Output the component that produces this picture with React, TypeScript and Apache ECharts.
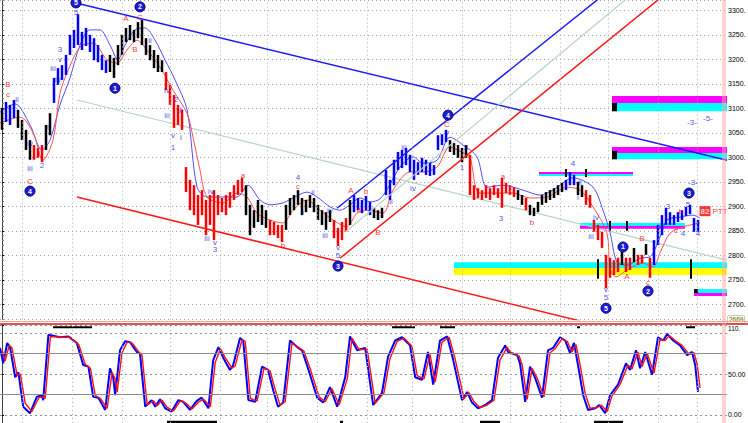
import React, { useEffect, useRef } from "react";
import * as echarts from "echarts";

// ---- price bars (high / low per bar) ----
const HIGHS = [
  3101, 3113, 3107, 3117, 3097, 3076, 3056, 3035, 3025, 3019,
  3025, 3066, 3090, 3162, 3182, 3188, 3209, 3250, 3260, 3292,
  3256, 3264, 3250, 3243, 3229, 3209, 3198, 3209, 3203, 3229,
  3250, 3264, 3270, 3260, 3276, 3280, 3243, 3229, 3219, 3209,
  3198, 3174, 3148, 3127, 3107, 3097, 2980, 2954, 2943, 2923,
  2933, 2913, 2923, 2933, 2923, 2917, 2923, 2929, 2943, 2954,
  2958, 2943, 2903, 2892, 2913, 2903, 2892, 2872, 2868, 2862,
  2862, 2903, 2917, 2923, 2933, 2917, 2913, 2923, 2917, 2903,
  2892, 2888, 2892, 2872, 2856, 2868, 2876, 2913, 2923, 2917,
  2913, 2921, 2909, 2897, 2892, 2897, 2974, 2954, 2995, 3011,
  3015, 3019, 3005, 2995, 2990, 2999, 2995, 2990, 2984, 3045,
  3047, 3056, 3035, 3029, 3025, 3019, 3025, 3005, 2943, 2937,
  2933, 2943, 2937, 2943, 2937, 2958, 2948, 2943, 2939, 2933,
  2923, 2917, 2903, 2897, 2909, 2923, 2929, 2933, 2937, 2943,
  2948, 2954, 2970, 2964, 2950, 2943, 2933, 2923, 2872, 2862,
  2848, 2801, 2795, 2790, 2795, 2807, 2795, 2795, 2815, 2801,
  2801, 2823, 2795, 2831, 2862, 2882, 2897, 2888, 2882, 2888,
  2892, 2899, 2903, 2876, 2872,
];
const LOWS = [
  3056, 3072, 3066, 3080, 3060, 3035, 3015, 2995, 2995, 2999,
  2990, 3015, 3045, 3111, 3148, 3158, 3168, 3209, 3223, 3229,
  3219, 3227, 3215, 3198, 3194, 3178, 3172, 3174, 3162, 3188,
  3209, 3235, 3239, 3235, 3243, 3229, 3209, 3198, 3182, 3174,
  3174, 3137, 3107, 3060, 3066, 3056, 2929, 2892, 2882, 2862,
  2882, 2841, 2862, 2831, 2882, 2888, 2882, 2897, 2913, 2923,
  2929, 2882, 2841, 2856, 2868, 2862, 2856, 2841, 2841, 2835,
  2827, 2852, 2882, 2892, 2903, 2882, 2888, 2897, 2888, 2872,
  2862, 2852, 2868, 2835, 2819, 2831, 2848, 2862, 2888, 2892,
  2886, 2892, 2882, 2876, 2872, 2876, 2923, 2913, 2943, 2974,
  2978, 2984, 2970, 2954, 2964, 2970, 2964, 2962, 2964, 3015,
  3025, 3031, 3011, 3005, 2999, 2990, 2999, 2923, 2913, 2917,
  2913, 2917, 2913, 2923, 2917, 2897, 2927, 2923, 2919, 2913,
  2903, 2892, 2882, 2880, 2888, 2903, 2907, 2913, 2917, 2923,
  2929, 2933, 2943, 2943, 2923, 2919, 2903, 2897, 2848, 2831,
  2815, 2733, 2754, 2760, 2766, 2780, 2766, 2770, 2786, 2780,
  2784, 2801, 2754, 2780, 2821, 2841, 2862, 2862, 2862, 2868,
  2872, 2880, 2884, 2848, 2848,
];
// wave colour of consecutive bars: k = black, b = blue, r = red
const BAR_RUNS: [string, number][] = [
  ["k", 1], ["b", 3], ["k", 4], ["r", 3], ["k", 2], ["b", 14], ["k", 14], ["r", 20],
  ["k", 6], ["r", 4], ["k", 12], ["r", 4], ["k", 1], ["b", 5], ["k", 3], ["b", 16],
  ["k", 5], ["r", 12], ["k", 2], ["r", 1], ["k", 9], ["b", 3], ["k", 2], ["r", 9],
  ["k", 1], ["r", 2], ["k", 1], ["r", 2], ["k", 1], ["r", 1], ["b", 12],
];

// ---- envelope averages ----
const BLUE_MA: [number, number][] = [
  [-0.5, 3092], [3.25, 3109], [7, 3066], [10, 3015], [12, 3035], [14.5, 3107], [17, 3162],
  [19.5, 3229], [22, 3260], [24.5, 3260], [27, 3229], [29, 3199], [30.75, 3229], [33.25, 3260],
  [35.75, 3264], [38.25, 3239], [40.75, 3199], [43.25, 3158], [46.25, 3097], [48.75, 2939],
  [51.25, 2919], [53.75, 2919], [58.75, 2919], [61.5, 2943], [64.5, 2913], [67, 2903],
  [70.25, 2907], [72.75, 2917], [76.25, 2929], [78.75, 2919], [82, 2899], [84.5, 2892],
  [87, 2903], [89.5, 2917], [92, 2909], [94.5, 2915], [97, 2945], [99.5, 2980], [102.75, 3001],
  [105.25, 2988], [108.75, 2994], [112, 3041], [115.25, 3025], [118.75, 3001], [121.25, 2939],
  [125.25, 2943], [130.25, 2933], [134.5, 2923], [137.75, 2933], [142.75, 2958], [147.75, 2939],
  [150.25, 2892], [152, 2847], [153.75, 2786], [156.25, 2780], [159.5, 2794], [162, 2797],
  [164.5, 2837], [166.25, 2872], [169.5, 2878], [172.75, 2882], [174.5, 2876],
];
const RED_MA: [number, number][] = [
  [-0.5, 3070], [4.5, 3082], [7.75, 3050], [10.25, 2994], [12.75, 3035], [14.5, 3131],
  [16.25, 3172], [19.5, 3225], [22.75, 3233], [26.25, 3199], [28.75, 3192], [31.25, 3219],
  [33.75, 3239], [36.25, 3219], [39.5, 3184], [42.75, 3137], [46.25, 3090], [47.75, 3041],
  [49.5, 2974], [51.25, 2919], [55.25, 2907], [58.75, 2927], [61.25, 2919], [63.75, 2886],
  [67, 2872], [70.25, 2866], [72.75, 2892], [76.25, 2913], [79.5, 2892], [82.75, 2872],
  [86.25, 2858], [88.75, 2886], [92, 2892], [95.25, 2886], [97.75, 2933], [102, 2970],
  [105.25, 2970], [108.75, 2980], [112, 3021], [115.25, 3009], [117, 2999], [119.5, 2927],
  [127.75, 2927], [132, 2917], [136.25, 2919], [141.25, 2939], [144.5, 2933], [147.75, 2899],
  [151.25, 2845], [152, 2774], [153.5, 2756], [156.25, 2770], [160.25, 2784], [162.75, 2776],
  [164.5, 2805], [167, 2845], [170.25, 2858], [174.5, 2866],
];

// ---- stochastic oscillator ----
const STOCH_K: [number, number][] = [
  [-0.5, 82], [0.3, 63], [1.3, 88], [2, 83], [3.3, 46], [4.1, 52], [5.3, 10], [7, 2], [8.7, 22],
  [9.9, 24], [10.3, 18], [11.6, 98], [14.5, 95], [16.6, 96], [18.7, 88], [20.3, 61], [21.6, 59],
  [22.8, 22], [24.1, 21], [25.8, 6], [27, 57], [27.8, 46], [28.3, 24], [29.5, 79], [30.8, 90],
  [32, 89], [33.7, 77], [34.5, 75], [35.8, 10], [37.4, 18], [38.3, 10], [39.5, 19], [40.8, 8],
  [42.4, 4], [44.1, 18], [45.3, 16], [47, 6], [48.7, 17], [49.9, 21], [51.6, 8], [52.8, 67],
  [54.1, 83], [55.3, 70], [57, 55], [57.8, 61], [59.5, 94], [60.3, 91], [61.6, 18], [63.3, 16],
  [65, 59], [66.5, 55], [67.8, 30], [69, 10], [70.3, 15], [72, 91], [73.8, 83], [75, 79],
  [76.5, 57], [78.8, 21], [80.3, 15], [82, 34], [83.8, 10], [85.8, 46], [87, 96], [88.8, 79],
  [90.8, 82], [92.8, 12], [95, 27], [96.5, 71], [98.3, 91], [100, 95], [102, 85], [103.3, 46],
  [105, 43], [106.5, 77], [107.8, 37], [109.5, 91], [111.3, 96], [112.8, 67], [115, 18],
  [116.3, 28], [117.5, 15], [119, 8], [120.8, 12], [122.5, 18], [124, 70], [125.8, 85],
  [126.5, 77], [128.8, 73], [129.5, 63], [130.8, 16], [132, 59], [133.3, 45], [135, 21],
  [136.5, 79], [137.8, 82], [139.5, 95], [140.8, 91], [142, 76], [143, 88], [144, 61],
  [145.3, 24], [146.5, 6], [148.3, 8], [149.3, 12], [150.8, 2], [152, 24], [154, 37], [156, 63],
  [157, 55], [158.5, 79], [159.5, 57], [160.8, 77], [162.5, 49], [164, 95], [165.3, 91],
  [166.3, 99], [167.8, 91], [169.5, 85], [171.3, 73], [172.5, 77], [173.3, 61], [174, 28],
];
const STOCH_D: [number, number][] = [
  [0, 80], [0.8, 66], [1.8, 85], [2.5, 82], [3.8, 48], [4.6, 50], [5.8, 14], [7.5, 4], [9.2, 21],
  [10.4, 22], [10.8, 20], [12.1, 96], [15, 95], [17.1, 95], [19.2, 86], [20.8, 62], [22.1, 57],
  [23.3, 24], [24.6, 20], [26.3, 8], [27.5, 52], [28.3, 44], [28.8, 28], [30, 76], [31.3, 89],
  [32.5, 88], [34.2, 77], [35, 73], [36.3, 12], [37.9, 17], [38.8, 11], [40, 18], [41.3, 9],
  [42.9, 5], [44.6, 17], [45.8, 15], [47.5, 7], [49.2, 16], [50.4, 19], [52.1, 10], [53.3, 64],
  [54.6, 81], [55.8, 70], [57.5, 57], [58.3, 60], [60, 92], [60.8, 90], [62.1, 20], [63.8, 17],
  [65.5, 57], [67, 54], [68.3, 31], [69.5, 12], [70.8, 16], [72.5, 88], [74.3, 82], [75.5, 78],
  [77, 57], [79.3, 22], [80.8, 16], [82.5, 32], [84.3, 12], [86.3, 44], [87.5, 94], [89.3, 80],
  [91.3, 80], [93.3, 14], [95.5, 27], [97, 69], [98.8, 90], [100.5, 94], [102.5, 84], [103.8, 48],
  [105.5, 44], [107, 74], [108.3, 40], [110, 89], [111.8, 95], [113.3, 68], [115.5, 20],
  [116.8, 27], [118, 16], [119.5, 9], [121.3, 12], [123, 18], [124.5, 67], [126.3, 83],
  [127, 77], [129.3, 72], [130, 62], [131.3, 19], [132.5, 57], [133.8, 45], [135.5, 22],
  [137, 76], [138.3, 81], [140, 93], [141.3, 90], [142.5, 77], [143.5, 86], [144.5, 62],
  [145.8, 26], [147, 8], [148.8, 9], [149.8, 12], [151.3, 4], [152.5, 23], [154.5, 37],
  [156.5, 61], [157.5, 56], [159, 77], [160, 59], [161.3, 75], [163, 51], [164.5, 92],
  [165.8, 91], [166.8, 97], [168.3, 91], [170, 85], [171.8, 74], [173, 76], [173.8, 62],
  [174.5, 33],
];

// ---- trend lines (two anchor points each) ----
const BLUE_DESC: [number, number][] = [[18.5, 3315], [181.25, 2994]];
const GRAY_DESC: [number, number][] = [[18.75, 3117], [181.25, 2790]];
const RED_DESC: [number, number][] = [[18.75, 2919], [144.5, 2666]];
const BLUE_ASC: [number, number][] = [[83.75, 2896], [152, 3342]];
const RED_ASC: [number, number][] = [[84.5, 2794], [167, 3341]];
const GREEN_ASC: [number, number][] = [[85.75, 2847], [158.75, 3341]];

// ---- time separators ----
const TIME_LINES = [5, 17.5, 30, 42, 54.5, 66.3, 78.8, 91.3, 102.5, 115, 127, 139.5, 151.5, 164, 173.8];

// ---- target zones: [x1, priceTop, x2, priceBottom, kind] ----
const ZONES: [number, number, number, number, string][] = [
  [152.5, 3125, 181.25, 3111, "m"], [152.5, 3111, 181.25, 3094, "c"], [152.5, 3111, 153.75, 3094, "k"],
  [152.5, 3021, 181.25, 3009, "m"], [152.5, 3009, 181.25, 2996, "c"], [152.5, 3013, 153.75, 2996, "k"],
  [134.25, 2970, 157.75, 2966, "m"], [134.25, 2966, 157.75, 2962, "c"],
  [140.75, 2976, 141.25, 2960, "k"], [145.75, 2976, 146.25, 2960, "k"],
  [144.5, 2866, 170.75, 2860, "c"], [144.5, 2860, 170.75, 2854, "m"],
  [151.75, 2870, 152.25, 2850, "k"], [156, 2870, 156.5, 2850, "k"],
  [113, 2786, 181.25, 2774, "c"], [113, 2774, 181.25, 2760, "y"],
  [148.75, 2792, 149.25, 2752, "k"], [172, 2792, 172.5, 2752, "k"],
  [173, 2731, 174, 2723, "k"], [174, 2731, 181.25, 2723, "c"], [173, 2723, 181.25, 2717, "m"],
];
// black date markers in the oscillator pane: [x1, top, x2, bottom]
const MARKER_BARS: [number, number, number, number][] = [
  [12.75, 108.5, 22.5, 106], [97.5, 108.5, 103.25, 106], [109.5, 108.5, 113.25, 106],
  [143.75, 108.5, 144.5, 106], [171, 108.5, 173.25, 106],
  [41.25, -7.3, 53.75, -10], [84.5, -7.3, 85.25, -10], [119.5, -7.3, 124.5, -10], [148, -7.3, 155.25, -10],
];

// ---- wave labels ----
const RED_LABELS: [number, number, string][] = [
  [1.5, 3149, "B"], [1.5, 3129, "c"], [7, 2950, "C"], [31, 3284, "A"], [33.25, 3219, "B"],
  [34.5, 3286, "C"], [60.25, 2962, "a"], [70.25, 2819, "b"], [74, 2941, "c"], [87.25, 2933, "A"],
  [91, 2931, "b"], [89.25, 2894, "a"], [94, 2847, "B"], [111.25, 3067, "C"], [125.25, 2960, "a"],
  [132.5, 2866, "b"], [156.25, 2756, "A"], [160, 2835, "B"], [161.5, 2745, "c"],
  [169.75, 2890, "b"], [168.5, 2850, "c"], [179.5, 2890, "PTT"],
];
const BLUE_LABELS: [number, number, string][] = [
  [3.75, 3117, "ii"], [7, 3029, "iv"], [7, 2978, "iii"], [10, 2984, "2"], [11.5, 3060, "i"],
  [12.75, 3182, "iii"], [14.5, 3219, "3"], [14.5, 3199, "v"], [14, 3158, "iv"], [18.5, 3295, "5"],
  [37, 3239, "ii"], [41.25, 3137, "iv"], [43.5, 3117, "2"], [41.25, 3086, "iii"], [44.75, 3096, "ii"],
  [42.75, 3044, "v"], [42.75, 3021, "1"], [44.75, 3041, "i"], [52.25, 2931, "iv"], [51.25, 2835, "iii"],
  [53.25, 2827, "v"], [53.25, 2811, "3"], [74, 2958, "4"], [77.75, 2929, "ii"], [75.25, 2888, "i"],
  [80.75, 2841, "iii"], [82, 2892, "iv"], [84, 2816, "v"], [84, 2799, "5"], [95.75, 2960, "i"],
  [97.25, 2909, "ii"], [100.5, 3021, "iii"], [102.75, 2937, "iv"], [111.25, 3051, "v"],
  [115, 2980, "1"], [116, 3021, "2"], [124.75, 2876, "3"], [142.75, 2988, "4"], [144.5, 2948, "ii"],
  [144, 2917, "i"], [148.5, 2878, "iv"], [147.25, 2839, "iii"], [151, 2730, "v"], [151, 2713, "5"],
  [166.5, 2899, "3"], [171.5, 2904, "5"], [170.25, 2845, "4"], [174, 2845, "4"],
  [172.75, 2948, "-3-"], [172.5, 3070, "-3-"], [176.5, 3080, "-5-"],
];
const WAVE_CIRCLES: [number, number, string][] = [
  [18.5, 3315, "5"], [34.5, 3307, "2"], [28.25, 3141, "1"], [7, 2931, "4"], [84, 2778, "3"],
  [111.5, 3086, "4"], [151, 2692, "5"], [155.25, 2817, "1"], [161.5, 2727, "2"], [171.75, 2927, "3"],
];
const PRICE_TAGS: [number, number, string][] = [[175.75, 2890, "82"]];

const FONT = "Liberation Sans, Arial, sans-serif";
const BAR_COLORS = ["#000000", "#0000ff", "#ff0000"];
const ZONE_COLORS: Record<string, string> = { m: "#ff00ff", c: "#00ffff", y: "#ffff00", k: "#000000" };

export default function App() {
  const ref = useRef<HTMLDivElement>(null);
  useEffect(() => {
    if (!ref.current) return;
    const chart = echarts.init(ref.current, undefined, { renderer: "svg" });

    const codes: number[] = [];
    BAR_RUNS.forEach(([c, n]) => {
      for (let k = 0; k < n; k++) codes.push(c === "b" ? 1 : c === "r" ? 2 : 0);
    });
    const bars = HIGHS.map((h, i) => [i, h, LOWS[i], codes[i]]);

    const xMin = -0.5;
    const xMax = 181.25;
    const trend = (data: [number, number][], color: string, width = 1.5) => ({
      type: "line",
      xAxisIndex: 0,
      yAxisIndex: 0,
      data,
      showSymbol: false,
      symbol: "none",
      silent: true,
      clip: true,
      z: 4,
      lineStyle: { color, width },
    });
    const labelSeries = (data: [number, number, string][], color: string, extra: any = {}) => ({
      type: "scatter",
      xAxisIndex: 0,
      yAxisIndex: 0,
      silent: true,
      symbolSize: 0,
      z: 6,
      data: data.map(([x, y, t]) => ({ value: [x, y], label: { formatter: t } })),
      label: {
        show: true,
        position: "inside",
        color,
        fontSize: 8,
        fontFamily: FONT,
        textBorderWidth: 0,
        textBorderColor: "transparent",
        ...extra,
      },
    });

    const axisLabelBase = {
      margin: 1,
      fontSize: 7,
      color: "#000",
      fontFamily: FONT,
    };

    const option: any = {
      animation: false,
      backgroundColor: "#ffffff",
      grid: [
        { left: 0, top: 0, width: 727, height: 319.5, containLabel: false, outerBoundsMode: "none" },
        { left: 0, top: 325, width: 727, height: 98, containLabel: false, outerBoundsMode: "none" },
      ],
      xAxis: [
        { type: "value", gridIndex: 0, min: xMin, max: xMax, show: false },
        { type: "value", gridIndex: 1, min: xMin, max: xMax, show: false },
      ],
      yAxis: [
        {
          type: "value",
          gridIndex: 0,
          position: "right",
          min: 2669,
          max: 3321,
          splitNumber: 13,
          minInterval: 50,
          maxInterval: 50,
          axisLine: { show: true, lineStyle: { color: "#404040" } },
          axisTick: { show: true, length: 2, lineStyle: { color: "#000" } },
          minorTick: { show: true, splitNumber: 5, length: 2, lineStyle: { color: "#808080" } },
          splitLine: { show: true, lineStyle: { color: "#a0a0a0", type: [1, 3] } },
          axisLabel: {
            ...axisLabelBase,
            showMaxLabel: false,
            showMinLabel: true,
            formatter: (v: number) => (v === 2669 ? "{lo|2669}" : v.toFixed(0) + "."),
            rich: {
              lo: {
                fontSize: 6.5,
                fontFamily: FONT,
                color: "#555",
                backgroundColor: "#ffffd0",
                padding: [0, 1, 0, 1],
                borderColor: "#999",
                borderWidth: 0.5,
              },
            },
          },
        },
        {
          type: "value",
          gridIndex: 1,
          position: "right",
          min: -10,
          max: 110,
          splitNumber: 2,
          minInterval: 50,
          maxInterval: 50,
          axisLine: { show: true, lineStyle: { color: "#404040" } },
          axisTick: { show: true, length: 2, lineStyle: { color: "#000" } },
          splitLine: { show: true, lineStyle: { color: "#909090", type: [2, 3] } },
          axisLabel: {
            ...axisLabelBase,
            showMinLabel: false,
            showMaxLabel: true,
            formatter: (v: number) =>
              v === 110 ? "{hi|110.}" : v === 100 ? "100.0" : v === 50 ? "50.00" : v === 0 ? "0.00" : "",
            rich: { hi: { fontSize: 6.5, fontFamily: FONT, padding: [7, 0, 0, 0] } },
          },
        },
      ],
      graphic: [
        { type: "line", z: 100, shape: { x1: 0, y1: 321.5, x2: 748, y2: 321.5 }, style: { stroke: "#ff9c9c", lineWidth: 1 } },
        { type: "line", z: 100, shape: { x1: 0, y1: 324, x2: 748, y2: 324 }, style: { stroke: "#d02020", lineWidth: 1.5 } },
        { type: "line", z: 100, shape: { x1: 723, y1: 0, x2: 723, y2: 423 }, style: { stroke: "#ffa8a8", lineWidth: 1 } },
        { type: "line", z: 100, shape: { x1: 725, y1: 0, x2: 725, y2: 423 }, style: { stroke: "#ffa8a8", lineWidth: 1 } },
      ],
      series: [
        // zones + grey channel line
        {
          type: "line",
          xAxisIndex: 0,
          yAxisIndex: 0,
          data: GRAY_DESC,
          showSymbol: false,
          symbol: "none",
          silent: true,
          z: 1,
          lineStyle: { color: "#b8d4c4", width: 1.2 },
          markArea: {
            silent: true,
            data: ZONES.map(([x1, y1, x2, y2, k]) => [
              { coord: [x1, y1], itemStyle: { color: ZONE_COLORS[k], opacity: 1 } },
              { coord: [x2, y2] },
            ]),
          },
          markLine: {
            silent: true,
            symbol: ["none", "none"],
            label: { show: false },
            lineStyle: { color: "#b0b0b0", type: [1, 3], width: 1 },
            data: TIME_LINES.map((x) => ({ xAxis: x })),
          },
        },
        // envelope averages
        {
          type: "line",
          xAxisIndex: 0,
          yAxisIndex: 0,
          data: BLUE_MA,
          showSymbol: false,
          symbol: "none",
          silent: true,
          z: 2,
          smooth: 0.3,
          lineStyle: { color: "#5050ff", width: 1 },
        },
        {
          type: "line",
          xAxisIndex: 0,
          yAxisIndex: 0,
          data: RED_MA,
          showSymbol: false,
          symbol: "none",
          silent: true,
          z: 2,
          smooth: 0.3,
          lineStyle: { color: "#ff5050", width: 1 },
        },
        // price bars
        {
          type: "custom",
          xAxisIndex: 0,
          yAxisIndex: 0,
          data: bars,
          z: 3,
          silent: true,
          clip: true,
          encode: { x: 0, y: [1, 2] },
          renderItem: (_p: any, api: any) => {
            const x = api.value(0);
            const top = api.coord([x, api.value(1)]);
            const bot = api.coord([x, api.value(2)]);
            return {
              type: "rect",
              shape: { x: top[0] - 1.25, y: top[1], width: 2.5, height: Math.max(1, bot[1] - top[1]) },
              style: { fill: BAR_COLORS[api.value(3)] },
            };
          },
        },
        trend(BLUE_DESC, "#1a1aff"),
        trend(RED_DESC, "#ff1a1a"),
        trend(BLUE_ASC, "#1a1aff"),
        trend(RED_ASC, "#ff1a1a"),
        trend(GREEN_ASC, "#b8d4c4", 1.2),
        labelSeries(RED_LABELS, "#ff0000"),
        labelSeries(BLUE_LABELS, "#1a1ae0"),
        labelSeries(PRICE_TAGS, "#ffffff", { backgroundColor: "#ff0000", padding: [1, 1], fontWeight: "bold" }),
        {
          type: "scatter",
          xAxisIndex: 0,
          yAxisIndex: 0,
          silent: true,
          z: 7,
          symbolSize: 10,
          itemStyle: { color: "#1c1cd8", borderColor: "#000070", borderWidth: 1, opacity: 1 },
          data: WAVE_CIRCLES.map(([x, y, t]) => ({ value: [x, y], label: { formatter: t } })),
          label: {
            show: true,
            position: "inside",
            color: "#ffffff",
            fontSize: 7,
            fontWeight: "bold",
            fontFamily: FONT,
            textBorderWidth: 0,
          },
        },
        // oscillator
        {
          type: "line",
          xAxisIndex: 1,
          yAxisIndex: 1,
          data: STOCH_K,
          showSymbol: false,
          symbol: "none",
          silent: true,
          z: 3,
          lineStyle: { color: "#0000ff", width: 2 },
          markLine: {
            silent: true,
            symbol: ["none", "none"],
            label: { show: false },
            data: [
              { yAxis: 75, lineStyle: { color: "#8c8c8c", type: "solid", width: 1.2 } },
              { yAxis: 25, lineStyle: { color: "#8c8c8c", type: "solid", width: 1.2 } },
              ...TIME_LINES.map((x) => ({ xAxis: x, lineStyle: { color: "#b0b0b0", type: [1, 3], width: 1 } })),
            ],
          },
          markArea: {
            silent: true,
            data: MARKER_BARS.map(([x1, y1, x2, y2]) => [
              { coord: [x1, y1], itemStyle: { color: "#000000", opacity: 1 } },
              { coord: [x2, y2] },
            ]),
          },
        },
        {
          type: "line",
          xAxisIndex: 1,
          yAxisIndex: 1,
          data: STOCH_D,
          showSymbol: false,
          symbol: "none",
          silent: true,
          z: 4,
          lineStyle: { color: "#ff1010", width: 1.4 },
        },
      ],
    };
    chart.setOption(option);
    return () => chart.dispose();
  }, []);

  return (
    <div
      ref={ref}
      style={{ position: "fixed", left: 0, top: 0, width: 748, height: 423, background: "#fff" }}
    />
  );
}
